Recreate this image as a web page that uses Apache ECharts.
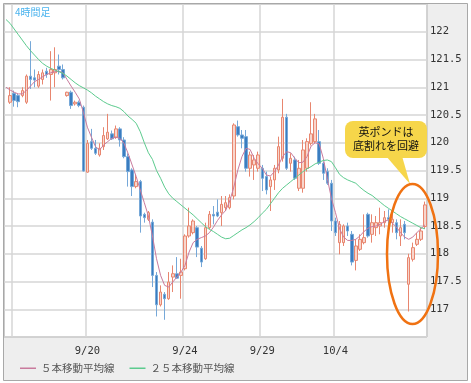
<!DOCTYPE html>
<html><head><meta charset="utf-8">
<script src="https://cdn.jsdelivr.net/npm/echarts@6/dist/echarts.min.js"></script>
<style>html,body{margin:0;padding:0;background:#fff}#c{width:471px;height:383px}</style>
</head><body><div id="c"></div><script>
// ---- data ----
const timeframeLabel = '4時間足';
const legendNames = ['５本移動平均線', '２５本移動平均線'];
const dateLabels = ['9/20', '9/24', '9/29', '10/4'];
const dateSlots = [20, 44, 63, 81];       // category slot where each labelled day starts
const extraGridSlots = [2];               // unlabeled day boundary at the left edge
const priceTicks = [117, 117.5, 118, 118.5, 119, 119.5, 120, 120.5, 121, 121.5, 122];
const calloutLines = ['英ポンドは', '底割れを回避'];

const opens = [120.73,120.89,120.85,120.85,120.73,121.20,121.17,121.02,121.14,121.29,
121.23,121.26,121.38,121.32,120.85,120.91,120.70,120.73,120.64,119.47,
120.02,119.90,119.78,119.93,120.07,120.16,120.10,120.25,120.05,119.75,
119.51,119.21,119.30,118.71,118.62,118.57,117.61,117.08,117.27,117.19,
117.58,117.64,117.61,117.73,118.32,118.38,118.47,118.10,117.91,118.47,
118.71,118.75,118.74,118.83,118.83,119.04,120.29,120.14,120.11,119.54,
119.60,119.54,119.54,119.39,119.21,119.33,119.51,119.72,120.46,119.63,
119.69,119.18,119.18,119.54,119.99,120.02,120.02,119.63,119.48,119.27,
118.59,118.20,118.20,118.50,118.35,117.88,118.08,118.20,118.71,118.35,
118.47,118.50,118.56,118.65,118.56,118.56,118.32,118.53,117.45,117.90,
118.17,118.26,118.49];
const closes = [120.85,120.76,120.74,120.94,121.20,121.14,121.13,121.23,121.26,121.23,
121.32,121.32,121.32,121.17,120.91,120.67,120.73,120.67,119.49,119.99,
119.90,119.81,119.90,120.13,120.19,120.07,120.25,120.05,119.75,119.48,
119.21,119.30,118.68,118.65,118.74,117.61,117.08,117.31,117.19,117.49,
117.64,117.56,117.67,118.32,118.50,118.59,118.12,117.85,118.47,118.71,
118.68,118.68,118.89,118.92,119.01,120.32,120.14,120.08,119.54,119.78,
119.69,119.78,119.36,119.15,119.33,119.54,119.93,120.46,119.54,119.72,
119.36,119.54,119.87,120.02,120.16,120.43,119.63,119.45,119.27,118.59,
118.38,118.53,118.50,118.41,117.85,118.14,118.26,118.29,118.32,118.56,
118.56,118.56,118.65,118.62,118.62,118.38,118.47,118.38,117.93,118.11,
118.26,118.41,118.88];
const lows = [120.70,120.65,120.64,120.82,120.70,120.97,121.00,120.99,121.05,121.17,
120.76,121.00,121.23,121.14,120.83,120.61,120.67,120.64,119.48,119.46,
119.87,119.78,119.75,119.87,120.05,120.05,120.07,119.93,119.72,119.21,
119.04,119.18,118.38,118.56,118.59,117.40,116.87,117.05,116.81,117.17,
117.31,117.55,117.19,117.70,118.29,118.35,117.94,117.76,117.89,118.44,
118.53,118.66,118.50,118.77,118.80,118.98,120.11,119.90,119.48,119.39,
119.33,119.48,119.13,119.07,118.77,119.15,119.45,119.66,119.51,119.48,
119.33,119.13,119.10,119.48,119.95,119.99,119.60,119.33,119.24,118.41,
118.32,117.99,118.14,118.32,117.79,117.70,118.05,118.17,118.29,118.20,
118.32,118.35,118.47,118.47,118.38,118.26,118.14,118.26,116.96,117.86,
118.14,118.23,118.45];
const highs = [121.00,120.94,120.88,121.00,121.23,121.83,121.32,121.29,121.32,121.35,
121.65,121.72,121.59,121.41,120.92,120.94,120.76,120.76,120.67,120.05,
120.25,120.05,119.99,120.28,120.52,120.22,120.31,120.28,120.10,119.81,
119.54,119.42,119.33,118.74,118.77,118.62,117.67,117.43,117.31,117.67,
117.79,117.94,117.91,118.35,118.83,118.62,118.50,118.14,118.56,118.77,
118.86,118.98,119.04,119.04,119.07,120.35,120.40,120.23,120.23,119.84,
119.78,119.84,119.60,119.48,119.39,119.60,120.11,120.79,120.52,119.81,
119.75,119.69,120.05,120.08,120.73,120.52,120.23,119.66,119.54,119.33,
118.65,118.59,118.53,118.56,118.41,118.26,118.35,118.71,118.74,118.71,
118.68,118.83,118.77,118.80,118.74,118.62,118.62,118.59,118.00,118.20,
118.38,118.47,118.94];
// moving averages: first value belongs to the slot left of the first visible candle
const ma5 = [121.00,
120.95,120.91,120.88,120.88,120.94,121.02,121.10,121.14,121.19,121.23,
121.26,121.28,121.29,121.26,121.14,121.02,120.91,120.79,120.55,120.28,
120.10,119.93,119.87,119.96,120.02,120.08,120.10,120.08,119.99,119.81,
119.60,119.39,119.15,118.92,118.68,118.32,117.91,117.61,117.43,117.40,
117.49,117.58,117.67,117.79,118.03,118.20,118.26,118.29,118.32,118.38,
118.48,118.60,118.70,118.78,118.95,119.20,119.51,119.75,119.90,119.88,
119.72,119.62,119.54,119.42,119.40,119.48,119.60,119.75,119.84,119.82,
119.72,119.64,119.65,119.75,119.94,120.00,119.98,119.72,119.35,119.00,
118.74,118.45,118.30,118.24,118.24,118.26,118.32,118.40,118.46,118.49,
118.50,118.53,118.58,118.61,118.55,118.48,118.38,118.30,118.26,118.30,
118.38,118.45,118.52];
const ma25 = [122.22,
122.15,122.05,121.95,121.85,121.75,121.66,121.58,121.50,121.43,121.38,
121.34,121.31,121.28,121.25,121.20,121.14,121.08,121.03,120.99,120.95,
120.90,120.84,120.79,120.74,120.70,120.67,120.65,120.62,120.56,120.48,
120.42,120.35,120.20,120.00,119.82,119.70,119.50,119.36,119.20,119.08,
119.00,118.94,118.88,118.82,118.76,118.70,118.63,118.56,118.49,118.44,
118.40,118.35,118.30,118.27,118.28,118.33,118.38,118.43,118.47,118.52,
118.58,118.65,118.73,118.80,118.90,119.00,119.10,119.18,119.24,119.30,
119.36,119.42,119.48,119.53,119.57,119.62,119.65,119.68,119.69,119.66,
119.55,119.43,119.37,119.33,119.30,119.27,119.20,119.14,119.09,119.05,
118.99,118.93,118.87,118.82,118.77,118.72,118.67,118.63,118.59,118.55,
118.51,118.47,118.45];

// ---- build ----
const N = opens.length + 1;
const cats = Array.from({length: N}, (_, i) => String(i));
const candleData = [['-', '-', '-', '-']].concat(opens.map((o, i) => [o, closes[i], lows[i], highs[i]]));
const gridSlots = extraGridSlots.concat(dateSlots);
const cjk = 'Noto Sans CJK JP';
const mono = 'DejaVu Sans Mono';

const chart = echarts.init(document.getElementById('c'), null, {renderer: 'canvas'});
chart.setOption({
  animation: false,
  backgroundColor: '#eeeeee',
  grid: {left: 4, top: 4, right: 44, bottom: 46, show: true, backgroundColor: '#ffffff', borderColor: '#999999', borderWidth: 1},
  xAxis: {
    type: 'category', data: cats, boundaryGap: true,
    axisLine: {show: false}, axisTick: {show: false},
    axisLabel: {
      interval: (i) => dateSlots.includes(i),
      formatter: (v) => { const k = dateSlots.indexOf(+v); return k >= 0 ? dateLabels[k] : ''; },
      color: '#333', fontFamily: mono, fontSize: 10.5, margin: 9
    },
    splitLine: {show: true, interval: (i) => gridSlots.includes(i), lineStyle: {color: '#d6d6d6', width: 1.5}}
  },
  yAxis: {
    type: 'value', position: 'right', min: 116.5, max: 122.5, interval: 0.5,
    axisLine: {show: false}, axisTick: {show: false},
    axisLabel: {
      formatter: (v) => priceTicks.some(t => Math.abs(t - v) < 1e-6) ? String(v) : '',
      color: '#333', fontFamily: mono, fontSize: 10.5, margin: 3
    },
    splitLine: {show: true, lineStyle: {color: '#d6d6d6', width: 1.5}}
  },
  legend: {
    left: 15, top: 358, itemWidth: 16, itemHeight: 1.5, itemGap: 15, icon: 'rect',
    textStyle: {fontFamily: cjk, fontSize: 10.5, color: '#555'},
    data: legendNames
  },
  series: [
    {type: 'candlestick', data: candleData, barWidth: 3,
     itemStyle: {color: '#f8d6cc', borderColor: '#e8866f', color0: '#3a7dc0', borderColor0: '#76a8d8', borderWidth: 1}},
    {type: 'line', name: legendNames[0], data: ma5, symbol: 'none', showSymbol: false,
     lineStyle: {color: '#c97b9d', width: 1}, itemStyle: {color: '#c97b9d'}, z: 3},
    {type: 'line', name: legendNames[1], data: ma25, symbol: 'none', showSymbol: false,
     lineStyle: {color: '#5ccb8e', width: 1}, itemStyle: {color: '#5ccb8e'}, z: 3}
  ],
  graphic: [
    {type: 'rect', z: 100, shape: {x: 0, y: 0, width: 471, height: 3}, style: {fill: '#fff'}},
    {type: 'rect', z: 100, shape: {x: 0, y: 0, width: 3, height: 383}, style: {fill: '#fff'}},
    {type: 'rect', z: 100, shape: {x: 468, y: 0, width: 3, height: 383}, style: {fill: '#fff'}},
    {type: 'rect', z: 100, shape: {x: 0, y: 381, width: 471, height: 2}, style: {fill: '#fff'}},
    {type: 'rect', z: 101, shape: {x: 3.5, y: 3.5, width: 464, height: 377}, style: {fill: 'none', stroke: '#a8a8a8', lineWidth: 1}},
    {type: 'text', z: 101, x: 15, y: 7, style: {text: timeframeLabel, fill: '#4ab3ee', font: '10px "Noto Sans CJK JP"'}},
    {type: 'polygon', z: 101, shape: {points: [[386, 156], [402, 156], [410, 184]]}, style: {fill: '#f6d64a'}},
    {type: 'rect', z: 101, shape: {x: 345, y: 121, width: 82, height: 37, r: 8}, style: {fill: '#f6d64a'}},
    {type: 'text', z: 102, x: 386, y: 132, style: {text: calloutLines[0], fill: '#111', font: '11px "Noto Sans CJK JP"', align: 'center', verticalAlign: 'middle'}},
    {type: 'text', z: 102, x: 386, y: 146, style: {text: calloutLines[1], fill: '#111', font: '11px "Noto Sans CJK JP"', align: 'center', verticalAlign: 'middle'}},
    {type: 'ellipse', z: 102, shape: {cx: 412.5, cy: 254, rx: 25.5, ry: 70}, style: {fill: 'none', stroke: '#f07212', lineWidth: 2.5}}
  ]
});
</script></body></html>
